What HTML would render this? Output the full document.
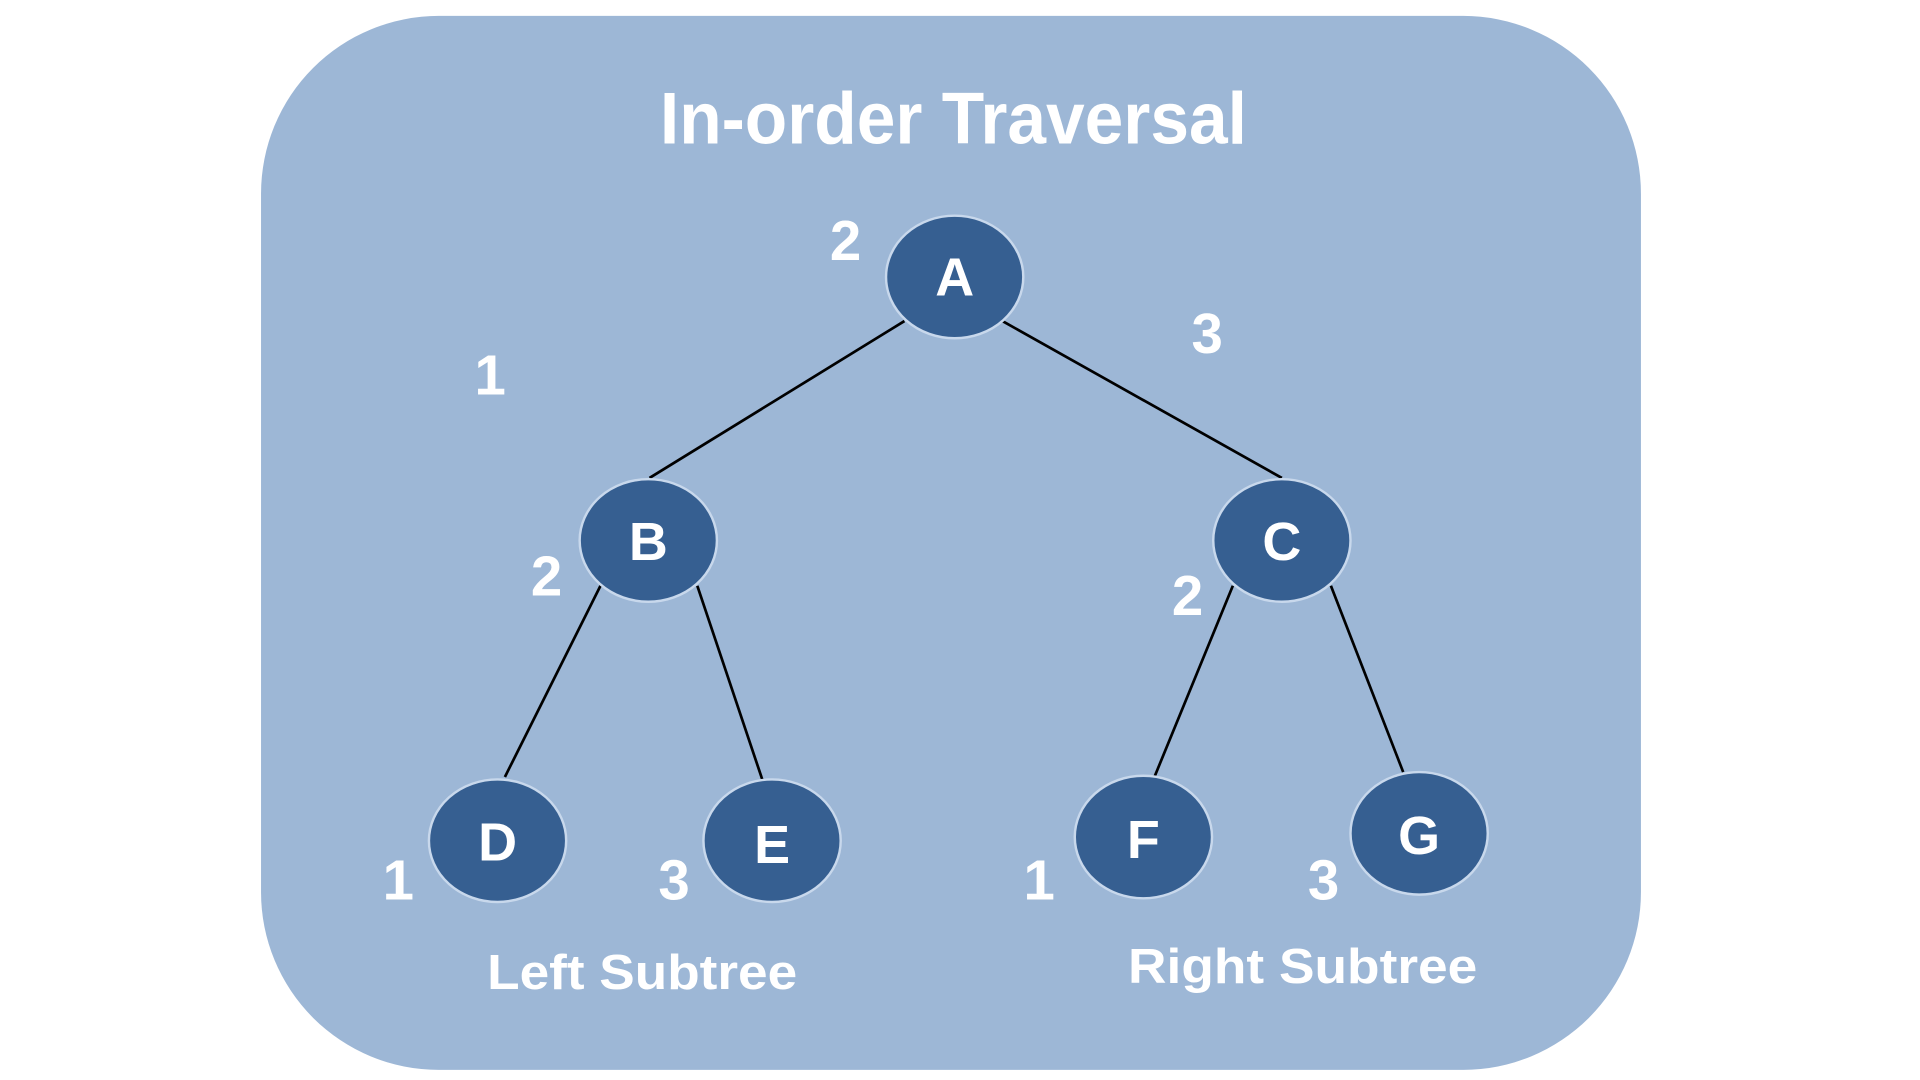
<!DOCTYPE html>
<html><head><style>html,body{margin:0;padding:0;background:#fff;}svg{display:block}</style></head>
<body>
<svg width="1920" height="1080" viewBox="0 0 1920 1080" xmlns="http://www.w3.org/2000/svg">
<g transform="scale(1.2255)">
<rect x="213" y="13" width="1126" height="860" rx="145" ry="145" fill="#9db7d6"/>
<text x="778" y="117" text-anchor="middle" font-family="Liberation Sans Narrow, Liberation Sans, sans-serif" font-weight="bold" font-size="60" fill="#fff" textLength="479" lengthAdjust="spacingAndGlyphs">In-order Traversal</text>
<g stroke="#000" stroke-width="2.2">
<line x1="738" y1="262" x2="530" y2="390"/>
<line x1="818" y1="262" x2="1046" y2="390"/>
<line x1="490" y1="478" x2="412" y2="634"/>
<line x1="569" y1="478" x2="624" y2="642"/>
<line x1="1006" y1="478" x2="942" y2="634"/>
<line x1="1086" y1="478" x2="1145" y2="630"/>
</g>
<g fill="#365f91" stroke="#c8d8ec" stroke-width="2">
<ellipse cx="779" cy="226" rx="56" ry="50"/>
<ellipse cx="529" cy="441" rx="56" ry="50"/>
<ellipse cx="1046" cy="441" rx="56" ry="50"/>
<ellipse cx="406" cy="686" rx="56" ry="50"/>
<ellipse cx="630" cy="686" rx="56" ry="50"/>
<ellipse cx="933" cy="683" rx="56" ry="50"/>
<ellipse cx="1158" cy="680" rx="56" ry="50"/>
</g>
<g fill="#fff" font-family="Liberation Sans, sans-serif" font-weight="bold" font-size="44" text-anchor="middle">
<text x="779" y="241">A</text>
<text x="529" y="457">B</text>
<text x="1046" y="457">C</text>
<text x="406" y="702">D</text>
<text x="630" y="704">E</text>
<text x="933" y="700">F</text>
<text x="1158" y="697">G</text>
</g>
<g fill="#fff" font-family="Liberation Sans, sans-serif" font-weight="bold" font-size="46" text-anchor="middle">
<text x="690" y="212">2</text>
<text x="985" y="288">3</text>
<text x="400" y="322">1</text>
<text x="446" y="486">2</text>
<text x="969" y="502">2</text>
<text x="325" y="734">1</text>
<text x="550" y="734">3</text>
<text x="848" y="734">1</text>
<text x="1080" y="734">3</text>
</g>
<g fill="#fff" font-family="Liberation Sans, sans-serif" font-weight="bold" font-size="40" text-anchor="middle">
<text x="524" y="807" textLength="253" lengthAdjust="spacingAndGlyphs">Left Subtree</text>
<text x="1063" y="802" textLength="285" lengthAdjust="spacingAndGlyphs">Right Subtree</text>
</g>
</g>
</svg>
</body></html>
